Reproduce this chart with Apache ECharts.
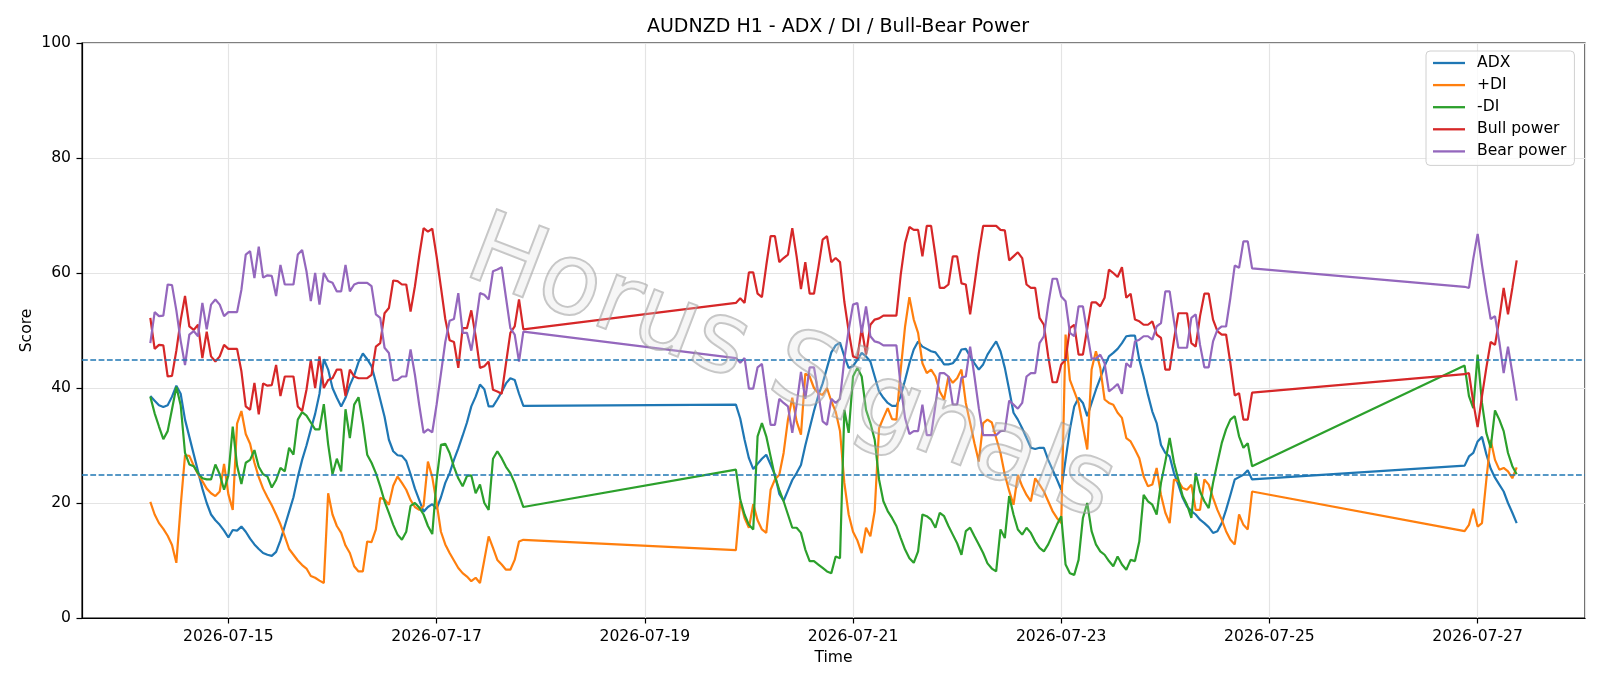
<!DOCTYPE html>
<html>
<head>
<meta charset="utf-8">
<title>AUDNZD H1 - ADX / DI / Bull-Bear Power</title>
<script src="https://cdn.jsdelivr.net/npm/echarts@6.0.0/dist/echarts.min.js"></script>
<style>
    html, body { margin: 0; padding: 0; background: #fff; }
    #chart-container { width: 1600px; height: 686px; }
</style>
</head>
<body>
<div id="chart-container"></div>
<script>
// trading sessions: [first hourly bar, number of bars]
const sessions = [['2026-07-14T06:00', 87], ['2026-07-19T21:00', 120], ['2026-07-26T21:00', 13]];
const seriesNames = ['ADX', '+DI', '-DI', 'Bull power', 'Bear power'];
const yTicks = [0, 20, 40, 60, 80, 100];
const levels = [45, 25];

const adx = [
    38.6, 37.8, 37.0, 36.7, 37.0, 38.5, 40.4, 39.0, 34.5, 31.5,
    28.5, 25.5, 22.5, 20.0, 18.0, 17.0, 16.2, 15.2, 14.0, 15.3,
    15.2, 15.9, 15.0, 13.8, 12.8, 12.0, 11.3, 11.0, 10.8, 11.5,
    13.5, 16.0, 18.5, 21.0, 24.5, 27.5, 30.0, 32.8, 35.5, 39.0,
    45.0, 43.2, 40.0, 38.3, 36.8, 38.3, 40.5, 42.2, 44.5, 46.0,
    45.0, 43.8, 41.0, 38.0, 35.0, 31.0, 29.0, 28.3, 28.2, 27.3,
    25.0, 22.5, 20.5, 18.5, 19.3, 19.8, 19.0, 21.0, 23.5, 25.2,
    27.5, 29.5, 31.7, 34.0, 36.8, 38.5, 40.6, 39.8, 36.8, 36.8,
    38.0, 39.3, 40.8, 41.7, 41.4, 39.0, 36.9,
    37.1, 34.7, 31.0, 27.8, 25.9, 26.8, 27.7, 28.4, 26.7, 24.9,
    21.6, 20.4, 22.2, 24.0, 25.2, 26.6, 30.0, 33.0, 36.0, 38.7,
    40.8, 43.5, 46.2, 47.4, 47.9, 45.5, 43.5, 43.8, 44.9, 46.1,
    45.5, 44.6, 42.0, 39.4, 38.3, 37.4, 36.9, 36.9, 38.6, 41.4,
    44.3, 46.7, 48.1, 47.2, 46.8, 46.4, 46.2, 45.2, 44.1, 44.1,
    44.3, 45.2, 46.7, 46.8, 45.5, 44.3, 43.2, 44.1, 45.8, 47.0,
    48.1, 46.4, 43.5, 39.7, 35.7, 34.5, 33.0, 31.3, 29.6, 29.4,
    29.6, 29.6, 27.5, 25.8, 24.1, 22.3, 27.5, 32.8, 36.8, 38.3,
    37.4, 35.1, 37.4, 39.7, 41.7, 43.8, 45.5, 46.1, 46.8, 47.8,
    49.0, 49.1, 49.1, 44.9, 42.0, 38.8, 35.9, 33.9, 30.1, 28.7,
    28.1, 25.2, 23.2, 20.9, 19.4, 18.6, 18.0, 17.1, 16.5, 15.8,
    14.8, 15.1, 16.5, 18.8, 21.4, 24.1, 24.5, 24.9, 25.7, 24.1,
    26.5, 28.1, 28.7, 30.7, 31.5, 28.5, 26.0, 24.4, 23.2, 22.0, 20.0, 18.3, 16.5
];
const plusDi = [
    20.2, 18.0, 16.5, 15.5, 14.3, 12.7, 9.6, 19.5, 28.3, 28.2,
    26.5, 25.0, 23.8, 22.5, 21.7, 21.2, 22.0, 26.8, 21.5, 18.8,
    33.8, 36.0, 32.0, 30.3, 27.0, 24.5, 22.5, 21.0, 19.6, 18.0,
    16.3, 14.2, 12.0, 11.0, 10.0, 9.2, 8.6, 7.3, 7.0, 6.5,
    6.1, 21.7, 18.0, 16.0, 14.8, 12.6, 11.3, 9.0, 8.1, 8.1,
    13.3, 13.2, 15.4, 20.9, 20.6, 19.7, 23.0, 24.6, 23.5, 22.3,
    20.5, 19.3, 18.8, 19.5, 27.2, 24.5, 20.0, 15.0, 12.8, 11.3,
    10.0, 8.7, 7.8, 7.2, 6.4, 7.0, 6.1, 10.1, 14.2, 12.2,
    10.1, 9.3, 8.4, 8.4, 10.1, 13.3, 13.6,
    11.8, 20.3, 17.4, 15.7, 19.8, 17.0, 15.4, 14.8, 22.3, 24.1,
    24.9, 28.7, 34.5, 38.3, 34.2, 31.9, 42.5, 42.0, 40.0, 39.1,
    38.8, 40.0, 37.7, 35.9, 32.5, 23.5, 18.0, 15.0, 13.5, 11.3,
    15.7, 14.2, 18.6, 33.0, 34.8, 36.5, 34.6, 34.5, 43.2, 50.7,
    55.8, 51.9, 49.6, 44.3, 42.6, 43.2, 42.0, 39.4, 38.0, 42.0,
    40.9, 41.7, 43.2, 37.4, 33.9, 30.4, 27.2, 33.9, 34.5, 34.0,
    31.3, 28.7, 24.9, 22.1, 19.7, 24.9, 22.9, 21.4, 20.3, 24.3,
    23.2, 22.0, 20.3, 18.6, 17.4, 16.5, 49.3, 41.4, 39.4, 37.4,
    33.3, 29.3, 43.2, 46.4, 43.5, 38.0, 37.4, 37.1, 35.7, 34.8,
    31.3, 30.7, 29.3, 27.8, 24.6, 22.9, 23.2, 26.1, 21.4, 18.3,
    16.5, 24.1, 23.8, 22.6, 22.3, 23.2, 18.8, 18.8, 24.1, 23.2,
    20.9, 18.8, 17.1, 15.1, 13.6, 12.8, 18.0, 16.2, 15.4, 22.0,
    15.1, 16.2, 19.0, 15.9, 16.5, 24.0, 31.0, 27.5, 25.8, 26.1, 25.5, 24.3, 26.2
];
const minusDi = [
    38.5, 35.6, 33.3, 31.1, 32.5, 36.3, 40.2, 37.0, 28.7, 26.7,
    26.4, 25.2, 24.3, 24.1, 24.1, 26.7, 25.0, 22.3, 24.8, 33.3,
    26.5, 23.3, 27.0, 27.5, 29.2, 26.3, 25.0, 24.6, 22.7, 24.0,
    26.1, 25.5, 29.6, 28.4, 34.5, 35.8, 35.2, 34.0, 32.8, 32.8,
    37.2, 30.2, 25.0, 27.7, 25.5, 36.3, 31.3, 37.1, 38.4, 33.9,
    28.4, 27.0, 25.2, 22.9, 20.3, 18.3, 16.2, 14.5, 13.6, 15.0,
    19.5, 20.0, 19.2, 18.0, 16.0, 14.6, 24.0, 30.1, 30.3, 28.7,
    26.3, 24.3, 22.9, 24.7, 24.8, 21.7, 23.2, 20.0, 18.8, 27.7,
    29.0, 27.8, 26.3, 25.2, 23.5, 21.4, 19.3,
    25.8, 20.6, 18.0, 16.2, 15.4, 31.6, 33.9, 31.6, 28.1, 24.6,
    22.3, 20.3, 18.0, 15.7, 15.7, 14.8, 11.9, 9.9, 9.9, 9.3,
    8.7, 8.1, 7.8, 10.7, 10.4, 36.2, 32.2, 42.0, 43.5, 42.0,
    36.2, 33.9, 31.0, 24.1, 20.3, 18.6, 17.4, 16.0, 13.9, 11.9,
    10.4, 9.6, 11.6, 18.0, 17.7, 17.1, 15.7, 18.3, 17.7, 16.0,
    14.5, 13.0, 11.0, 15.1, 15.7, 14.2, 12.8, 11.3, 9.5, 8.6,
    8.1, 15.4, 13.9, 21.2, 18.0, 15.4, 14.5, 15.7, 14.8, 13.3,
    12.2, 11.6, 12.8, 14.5, 16.2, 17.7, 9.3, 7.8, 7.5, 10.1,
    17.4, 20.0, 15.1, 12.8, 11.6, 11.0, 9.9, 9.0, 10.7, 9.3,
    8.4, 10.1, 9.9, 13.3, 21.4, 20.3, 19.7, 18.0, 23.5, 27.2,
    31.3, 27.0, 24.1, 21.2, 19.7, 17.4, 25.2, 22.0, 20.3, 19.1,
    23.5, 27.0, 30.4, 32.8, 34.5, 35.1, 31.6, 29.6, 30.4, 26.4,
    43.9, 38.6, 36.5, 45.8, 37.4, 32.2, 29.6, 36.1, 34.5, 32.5, 28.7, 26.4, 25.0
];
const bullPower = [
    52.2, 46.8, 47.5, 47.4, 42.0, 42.1, 46.5, 51.8, 56.0, 50.7,
    50.1, 51.0, 45.2, 49.8, 45.5, 44.6, 45.5, 47.5, 46.8, 46.8,
    46.8, 42.9, 36.8, 36.2, 40.9, 35.4, 40.8, 40.4, 40.5, 44.0,
    38.6, 42.0, 42.0, 42.0, 36.8, 36.0, 39.7, 44.9, 40.0, 45.5,
    40.0, 41.4, 41.7, 43.2, 43.2, 38.6, 43.2, 42.0, 41.7, 41.7,
    41.7, 42.3, 47.2, 47.8, 53.0, 53.9, 58.7, 58.6, 58.0, 58.0,
    53.3, 57.7, 63.0, 67.8, 67.2, 67.7, 62.9, 57.5, 52.0, 48.3,
    48.0, 43.5, 50.4, 50.4, 53.5, 49.0, 43.5, 43.8, 44.6, 39.7,
    39.4, 39.0, 44.3, 49.6, 50.7, 55.4, 50.2,
    54.8, 55.6, 54.8, 60.1, 60.1, 56.4, 55.8, 61.3, 66.4, 66.4,
    61.9, 62.6, 63.2, 67.8, 62.9, 57.2, 61.9, 56.4, 56.4, 60.9,
    65.8, 66.4, 61.9, 62.6, 61.9, 55.0, 49.9, 45.5, 45.2, 50.4,
    45.8, 51.0, 51.9, 52.1, 52.6, 52.6, 52.6, 52.6, 59.7, 65.2,
    68.0, 67.5, 67.5, 62.9, 68.2, 68.2, 63.0, 57.4, 57.4, 58.0,
    62.9, 62.9, 58.2, 58.0, 52.8, 58.0, 63.5, 68.2, 68.2, 68.2,
    68.2, 67.5, 67.4, 62.2, 62.9, 63.6, 62.6, 58.0, 57.4, 57.4,
    52.2, 51.0, 45.5, 41.0, 41.0, 44.1, 44.9, 50.4, 51.0, 45.8,
    45.8, 50.4, 54.9, 54.9, 54.2, 55.7, 60.6, 60.0, 59.3, 61.0,
    55.7, 56.4, 51.9, 51.6, 51.0, 51.0, 51.6, 49.3, 48.7, 43.2,
    43.2, 48.4, 53.0, 53.0, 53.0, 47.8, 47.2, 52.5, 56.4, 56.4,
    51.9, 49.9, 49.3, 49.3, 44.3, 38.7, 39.1, 34.5, 34.5, 39.2,
    42.4, 42.6, 37.5, 33.2, 38.6, 43.5, 48.0, 47.5, 52.0, 57.4, 52.8, 57.4, 62.2
];
const bearPower = [
    47.8, 53.2, 52.5, 52.6, 58.0, 57.9, 53.5, 48.2, 44.0, 49.3,
    49.9, 49.0, 54.8, 50.2, 54.5, 55.4, 54.5, 52.5, 53.2, 53.2,
    53.2, 57.1, 63.2, 63.8, 59.1, 64.6, 59.2, 59.6, 59.5, 56.0,
    61.4, 58.0, 58.0, 58.0, 63.2, 64.0, 60.3, 55.1, 60.0, 54.5,
    60.0, 58.6, 58.3, 56.8, 56.8, 61.4, 56.8, 58.0, 58.3, 58.3,
    58.3, 57.7, 52.8, 52.2, 47.0, 46.1, 41.3, 41.4, 42.0, 42.0,
    46.7, 42.3, 37.0, 32.2, 32.8, 32.3, 37.1, 42.5, 48.0, 51.7,
    52.0, 56.5, 49.6, 49.6, 46.5, 51.0, 56.5, 56.2, 55.4, 60.3,
    60.6, 61.0, 55.7, 50.4, 49.3, 44.6, 49.8,
    45.2, 44.4, 45.2, 39.9, 39.9, 43.6, 44.2, 38.7, 33.6, 33.6,
    38.1, 37.4, 36.8, 32.2, 37.1, 42.8, 38.1, 43.6, 43.6, 39.1,
    34.2, 33.6, 38.1, 37.4, 38.1, 45.0, 50.1, 54.5, 54.8, 49.6,
    54.2, 49.0, 48.1, 47.9, 47.4, 47.4, 47.4, 47.4, 40.3, 34.8,
    32.0, 32.5, 32.5, 37.1, 31.8, 31.8, 37.0, 42.6, 42.6, 42.0,
    37.1, 37.1, 41.8, 42.0, 47.2, 42.0, 36.5, 31.8, 31.8, 31.8,
    31.8, 32.5, 32.6, 37.8, 37.1, 36.4, 37.4, 42.0, 42.6, 42.6,
    47.8, 49.0, 54.5, 59.0, 59.0, 55.9, 55.1, 49.6, 49.0, 54.2,
    54.2, 49.6, 45.1, 45.1, 45.8, 44.3, 39.4, 40.0, 40.7, 39.0,
    44.3, 43.6, 48.1, 48.4, 49.0, 49.0, 48.4, 50.7, 51.3, 56.8,
    56.8, 51.6, 47.0, 47.0, 47.0, 52.2, 52.8, 47.5, 43.6, 43.6,
    48.1, 50.1, 50.7, 50.7, 55.7, 61.3, 60.9, 65.5, 65.5, 60.8,
    57.6, 57.4, 62.5, 66.8, 61.4, 56.5, 52.0, 52.5, 48.0, 42.6, 47.2, 42.6, 37.8
];

const colors = ['#1f77b4', '#ff7f0e', '#2ca02c', '#d62728', '#9467bd'];
const font = '"DejaVu Sans", Arial, sans-serif';
const HOUR = 3600 * 1000;

// hourly timestamps for every bar
const times = [];
sessions.forEach(function (s) {
    const start = new Date(s[0]).getTime();
    for (let k = 0; k < s[1]; k++) {
        times.push(start + k * HOUR);
    }
});
const span = times[times.length - 1] - times[0];
const xMin = times[0] - span * 0.05;
const xMax = times[times.length - 1] + span * 0.05;

function pairs(values) {
    return values.map(function (v, k) { return [times[k], v]; });
}

function pad2(n) { return (n < 10 ? '0' : '') + n; }

const allValues = [adx, plusDi, minusDi, bullPower, bearPower];

const series = seriesNames.map(function (name, idx) {
    const s = {
        name: name,
        type: 'line',
        data: pairs(allValues[idx]),
        showSymbol: false,
        symbol: 'none',
        smooth: false,
        lineStyle: { color: colors[idx], width: 2.2 },
        itemStyle: { color: colors[idx] },
        emphasis: { disabled: true },
        silent: true
    };
    if (idx === seriesNames.length - 1) {
        // dashed threshold lines
        s.markLine = {
            silent: true,
            symbol: 'none',
            label: { show: false },
            lineStyle: { color: '#1f77b4', width: 1.5, type: [5.8, 2.5] },
            data: levels.map(function (v) { return { yAxis: v }; })
        };
    }
    return s;
});

var myChart = echarts.init(document.getElementById('chart-container'));

var options = {
    animation: false,
    backgroundColor: '#ffffff',
    color: colors,
    title: {
        text: 'AUDNZD H1 - ADX / DI / Bull-Bear Power',
        left: 833,
        textAlign: 'center',
        top: 13,
        textStyle: { fontFamily: font, fontSize: 19, fontWeight: 'normal', color: '#000' }
    },
    legend: {
        orient: 'vertical',
        left: 1426,
        top: 51,
        data: seriesNames,
        icon: 'rect',
        itemWidth: 32,
        itemHeight: 2.3,
        itemGap: 4.1,
        padding: [3, 8, 5, 7],
        backgroundColor: 'rgba(255,255,255,0.8)',
        borderColor: '#d0d0d0',
        borderWidth: 1,
        borderRadius: 4,
        selectedMode: false,
        textStyle: { fontFamily: font, fontSize: 15.6, color: '#000', lineHeight: 18, padding: [0, 0, 0, 7] }
    },
    grid: {
        left: 82,
        right: 15,
        top: 43,
        bottom: 68,
        show: true,
        borderColor: '#000',
        borderWidth: 1.2,
        backgroundColor: 'transparent'
    },
    xAxis: {
        type: 'time',
        min: xMin,
        max: xMax,
        minInterval: 2 * 24 * HOUR,
        maxInterval: 2 * 24 * HOUR,
        name: 'Time',
        nameLocation: 'middle',
        nameGap: 32,
        nameMoveOverlap: false,
        nameTextStyle: { fontFamily: font, fontSize: 15.6, color: '#000' },
        axisLine: { show: true, lineStyle: { color: '#000', width: 1.2 } },
        axisTick: { show: true, inside: false, length: 5.5, lineStyle: { color: '#000', width: 1.2 } },
        axisLabel: {
            fontFamily: font,
            fontSize: 15.6,
            color: '#000',
            margin: 11,
            hideOverlap: false,
            formatter: function (value) {
                const d = new Date(value);
                return d.getFullYear() + '-' + pad2(d.getMonth() + 1) + '-' + pad2(d.getDate());
            }
        },
        splitLine: { show: true, lineStyle: { color: '#e4e4e4', width: 1.2 } }
    },
    yAxis: {
        type: 'value',
        min: yTicks[0],
        max: yTicks[yTicks.length - 1],
        interval: 20,
        name: 'Score',
        nameLocation: 'middle',
        nameGap: 47,
        nameRotate: 90,
        nameMoveOverlap: false,
        nameTextStyle: { fontFamily: font, fontSize: 15.6, color: '#000' },
        axisLine: { show: true, lineStyle: { color: '#000', width: 1.2 } },
        axisTick: { show: true, inside: false, length: 5.5, lineStyle: { color: '#000', width: 1.2 } },
        axisLabel: { fontFamily: font, fontSize: 15.6, color: '#000', margin: 11 },
        splitLine: { show: true, lineStyle: { color: '#e4e4e4', width: 1.2 } }
    },
    graphic: [{
        // watermark
        type: 'text',
        x: 790,
        y: 372,
        rotation: -21 * Math.PI / 180,
        z: 100,
        silent: true,
        style: {
            text: 'Horus Signals',
            fontFamily: font,
            fontSize: 100,
            align: 'center',
            verticalAlign: 'middle',
            fill: 'rgba(220,220,220,0.25)',
            stroke: 'rgba(150,150,150,0.55)',
            lineWidth: 2
        }
    }],
    series: series
};

myChart.setOption(options);
</script>
</body>
</html>
